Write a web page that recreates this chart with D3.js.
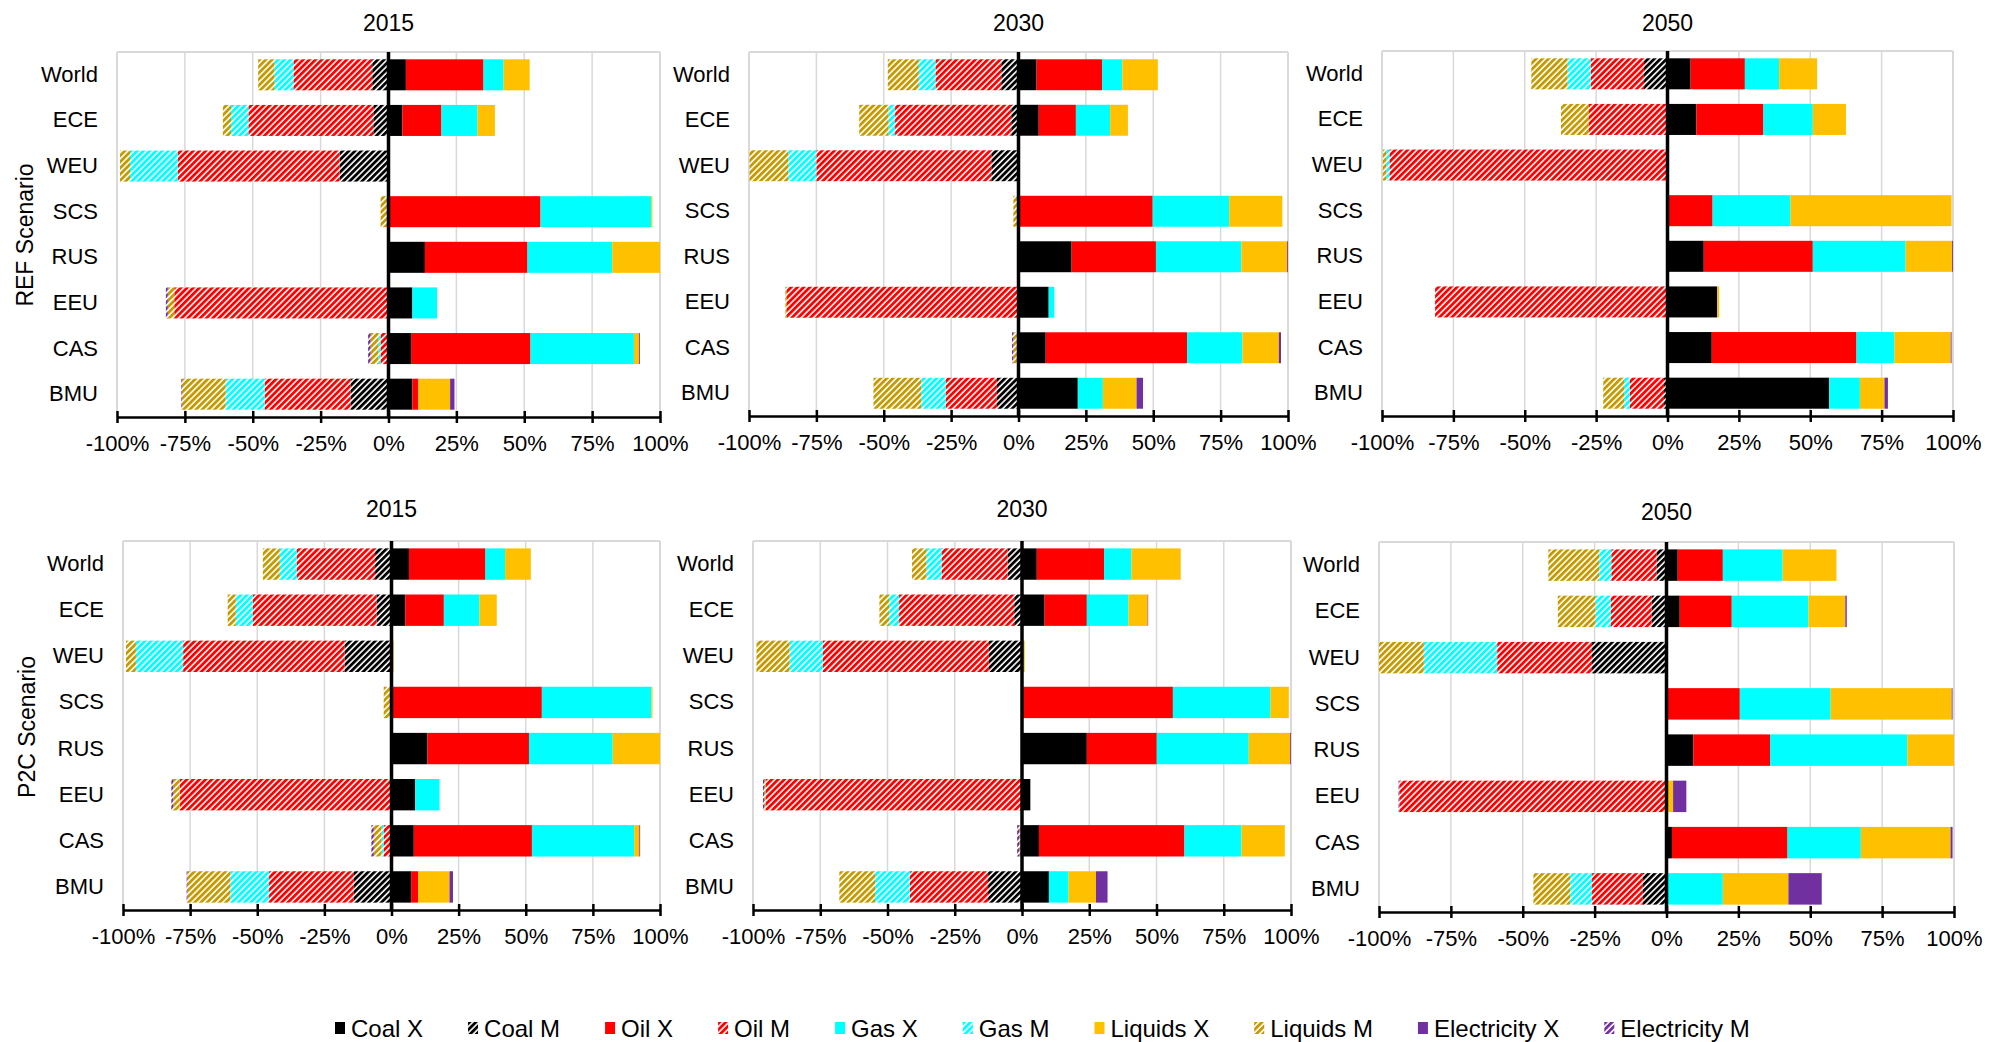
<!DOCTYPE html>
<html>
<head>
<meta charset="utf-8">
<script src="https://cdn.jsdelivr.net/npm/d3@7"></script>
<style>
html,body{margin:0;padding:0;background:#fff;}
svg{display:block;font-family:"Liberation Sans",Arial,sans-serif;}
</style>
</head>
<body>
<svg id="chart" width="2005" height="1042"></svg>
<script>
// ---------------- DATA ----------------
const regions = ["World","ECE","WEU","SCS","RUS","EEU","CAS","BMU"];
const seriesNames = ["Coal X","Coal M","Oil X","Oil M","Gas X","Gas M","Liquids X","Liquids M","Electricity X","Electricity M"];
const tickValues = [-100,-75,-50,-25,0,25,50,75,100];
const yearLabels = ["2015","2030","2050"];
const scenarioLabels = ["REF Scenario","P2C Scenario"];

// columns follow seriesNames order (share of trade, %; imports M negative)
const REF_2015 = [
  [6.4,-6,28.6,-29,7.4,-7,9.6,-6,0,0],
  [5.1,-5.6,14.4,-46,13.3,-6.4,6.4,-3,0,0],
  [0,-18,0,-59.6,0,-17.6,0.5,-3.7,0,0],
  [0,0,56,0,40.8,0,0.4,-2.9,0,0],
  [13.4,0,37.8,0,31.2,0,17.6,0,0,0],
  [8.8,0,0,-78.9,9.1,0,0,-2.4,0,-0.7],
  [8.3,0,44,-2.9,38.1,-0.8,1.9,-2.9,0.3,-0.9],
  [8.8,-14,2.2,-31.6,0,-14.4,11.7,-16,1.6,-0.3]
];
const REF_2030 = [
  [6.7,-6.4,24.3,-24.4,7.5,-6.2,13.2,-11.5,0,0],
  [7.5,-2.7,13.8,-43.1,12.7,-2.4,6.6,-10.9,0,0],
  [0,-10.1,0,-64.9,0,-10.4,0,-14.4,0,0],
  [0,0,49.8,0,28.4,0,19.7,-1.9,0,0],
  [19.7,0,31.3,0,31.7,0,17,0,0.3,0],
  [11.2,0,0,-85.9,2.1,0,0,-0.6,0,0],
  [10.1,0,52.5,-0.5,20.5,0,13.5,-1.4,0.8,-0.5],
  [22,-8,0,-19,9.3,-9.1,12.5,-17.7,2.4,0]
];
const REF_2050 = [
  [8.1,-8.2,19,-18.7,12,-8.1,13.3,-12.7,0,0],
  [10.1,0,23.5,-27.5,17.3,0,11.6,-9.8,0,0],
  [0,0,0,-97.4,0,-1.1,0,-1.2,0,0],
  [0,0,15.8,0,27.3,0,56.4,0,0,0],
  [12.7,0,38.2,0,32.5,0,16.3,0,0.3,0],
  [17.4,0,0,-81.4,0,0,0.7,0,0,0],
  [15.5,0,50.7,0,13.3,0,19.7,0,0.3,0],
  [56.6,-1.2,0,-12,10.8,-2,8.6,-7.3,1.2,0]
];
const P2C_2015 = [
  [6.5,-6.1,28.5,-29.1,7.3,-6.4,9.6,-6.3,0,0],
  [5.1,-5.6,14.4,-46,13.3,-6.4,6.4,-3,0,0],
  [0,-17.5,0,-60.1,0,-17.6,0.8,-3.7,0,0],
  [0,0,56,0,40.8,0,0.4,-2.9,0,0],
  [13.4,0,37.8,0,31.2,0,17.6,0,0,0],
  [8.8,0,0,-78.9,9.1,0,0,-2.4,0,-0.7],
  [8.3,0,44,-2.9,38.1,-0.8,1.9,-2.9,0.3,-0.9],
  [7.3,-14,2.6,-31.6,0,-14.4,11.7,-16,1.3,-0.3]
];
const P2C_2030 = [
  [5.5,-5.3,25,-24.6,10.2,-5.6,18.3,-5.4,0,0],
  [8.4,-2.9,15.7,-42.8,15.5,-3.7,7.1,-3.6,0.2,0],
  [0,-12.3,0,-61.7,0,-12.4,1,-12.3,0,0],
  [0,0,56.1,0,36.3,0,6.8,0,0,0],
  [24.1,0,26,0,34.2,0,15.4,0,0.3,0],
  [3.1,0,0,-95.3,0,0,0,-0.5,0,-0.5],
  [6.3,0,54.1,0,21.2,0,16.1,-1,0,-0.8],
  [10,-12.6,0,-29.1,7.3,-12.9,10.2,-13.3,4.3,0]
];
const P2C_2050 = [
  [3.9,-3.5,15.7,-15.7,20.8,-4.2,18.7,-17.7,0,0],
  [4.6,-5.1,18.1,-14.2,26.7,-5.4,12.8,-13.1,0.5,0],
  [0,-25.9,0,-33,0,-25.5,0,-15.6,0,0],
  [0,0,25.5,0,31.6,0,42.1,0,0.3,0],
  [9.3,0,26.7,0,47.8,0,16.2,0,0,0],
  [0,0,0,-92.9,0,0,2.3,0,4.6,-0.3],
  [1.9,0,40.2,0,25.5,0,31.2,0,0.7,0],
  [0,-8.2,0,-17.7,19.6,-7.6,22.8,-12.8,11.6,0]
];

// ---------------- STYLE / LAYOUT ----------------
const baseColors = {"Coal":"#000000","Oil":"#ff0000","Gas":"#00ffff","Liquids":"#ffc000","Electricity":"#7030a0"};
const hatchColors = {"Coal":"#000000","Oil":"#ff0000","Gas":"#00ffff","Liquids":"#c49a00","Electricity":"#7030a0"};
const FONT = 22;

const panels = [
  {data:REF_2015, year:0, x0:117, x1:660, y0:52, y1:417, titleY:31},
  {data:REF_2030, year:1, x0:749, x1:1288, y0:52, y1:416, titleY:31},
  {data:REF_2050, year:2, x0:1382, x1:1953, y0:51, y1:416, titleY:31},
  {data:P2C_2015, year:0, x0:123, x1:660, y0:541, y1:910, titleY:517},
  {data:P2C_2030, year:1, x0:753, x1:1291, y0:541, y1:910, titleY:517},
  {data:P2C_2050, year:2, x0:1379, x1:1954, y0:542, y1:912, titleY:520}
];

const svg = d3.select("#chart");
const defs = svg.append("defs");

function patId(name){ return "hatch-" + name.replace(/\s+/g,""); }
seriesNames.forEach(s => {
  if (!s.endsWith(" M")) return;
  const fuel = s.split(" ")[0];
  const p = defs.append("pattern")
    .attr("id", patId(s))
    .attr("patternUnits","userSpaceOnUse")
    .attr("width",4.4).attr("height",4.4)
    .attr("patternTransform","rotate(45)");
  p.append("rect").attr("width",4.4).attr("height",4.4).attr("fill","#fff");
  p.append("rect").attr("width",2.8).attr("height",4.4).attr("fill",hatchColors[fuel]);
});
function fillFor(s){
  const fuel = s.split(" ")[0];
  return s.endsWith(" M") ? `url(#${patId(s)})` : baseColors[fuel];
}

const stack = d3.stack()
  .keys(seriesNames.map((_,i)=>i))
  .offset(d3.stackOffsetDiverging);

panels.forEach(p => {
  const g = svg.append("g");
  const x = d3.scaleLinear().domain([-100,100]).range([p.x0,p.x1]);
  const y = d3.scaleBand().domain(regions).range([p.y0,p.y1]).paddingInner(0.32).paddingOuter(0.16);

  // gridlines
  g.append("g").selectAll("line").data(tickValues).join("line")
    .attr("x1",d=>x(d)).attr("x2",d=>x(d))
    .attr("y1",p.y0).attr("y2",p.y1)
    .attr("stroke","#d9d9d9").attr("stroke-width",1.5);
  // border
  g.append("line").attr("x1",p.x0).attr("x2",p.x1).attr("y1",p.y0).attr("y2",p.y0)
    .attr("stroke","#d9d9d9").attr("stroke-width",2);
  g.append("line").attr("x1",p.x0).attr("x2",p.x0).attr("y1",p.y0).attr("y2",p.y1)
    .attr("stroke","#d9d9d9").attr("stroke-width",2);
  g.append("line").attr("x1",p.x1).attr("x2",p.x1).attr("y1",p.y0).attr("y2",p.y1)
    .attr("stroke","#d9d9d9").attr("stroke-width",2);

  // bars
  const stacked = stack(p.data);
  g.append("g").selectAll("g").data(stacked).join("g")
    .attr("fill", (d,i)=>fillFor(seriesNames[i]))
    .selectAll("rect").data((d)=>d.map((v,j)=>({v, region:regions[j]}))).join("rect")
      .attr("x", d=>x(Math.min(d.v[0],d.v[1])))
      .attr("width", d=>Math.abs(x(d.v[1])-x(d.v[0])))
      .attr("y", d=>y(d.region))
      .attr("height", y.bandwidth());

  // zero line
  g.append("line").attr("x1",x(0)).attr("x2",x(0)).attr("y1",p.y0).attr("y2",p.y1)
    .attr("stroke","#000").attr("stroke-width",3.5);

  // bottom axis
  const ax = g.append("g").attr("transform",`translate(0,${p.y1})`)
    .call(d3.axisBottom(x).tickValues(tickValues).tickFormat(d=>d+"%").tickSize(6).tickSizeOuter(0));
  ax.select(".domain").attr("stroke","#000").attr("stroke-width",2.5);
  ax.selectAll(".tick line").attr("y1",-6).attr("y2",6).attr("stroke","#000").attr("stroke-width",2.5);
  ax.selectAll(".tick text").attr("y",18).attr("dy","0.71em")
    .attr("font-size",FONT).attr("fill","#000").attr("font-family","Liberation Sans, Arial, sans-serif");

  // category axis
  const ay = g.append("g").attr("transform",`translate(${p.x0},0)`)
    .call(d3.axisLeft(y).tickSize(0).tickPadding(19));
  ay.select(".domain").remove();
  ay.selectAll(".tick text").attr("font-size",FONT).attr("fill","#000")
    .attr("font-family","Liberation Sans, Arial, sans-serif");

  // title
  g.append("text").attr("x",(p.x0+p.x1)/2).attr("y",p.titleY)
    .attr("text-anchor","middle").attr("font-size",23).attr("fill","#000")
    .text(yearLabels[p.year]);
});

// scenario titles
[[25,235,scenarioLabels[0]],[27,727,scenarioLabels[1]]].forEach(([cx,cy,t])=>{
  svg.append("text").attr("transform",`translate(${cx + 8},${cy}) rotate(-90)`)
    .attr("text-anchor","middle").attr("font-size",23).attr("fill","#000").text(t);
});

// legend
const leg = svg.append("g").attr("transform","translate(335,1028)");
let lx = 0;
seriesNames.forEach(s => {
  const it = leg.append("g").attr("transform",`translate(${lx},0)`);
  it.append("rect").attr("x",0).attr("y",-6).attr("width",10).attr("height",12).attr("fill",fillFor(s));
  const t = it.append("text").attr("x",16).attr("y",8.5).attr("font-size",24).attr("fill","#000").text(s);
  lx += 16 + t.node().getComputedTextLength() + 45;
});
</script>
</body>
</html>
